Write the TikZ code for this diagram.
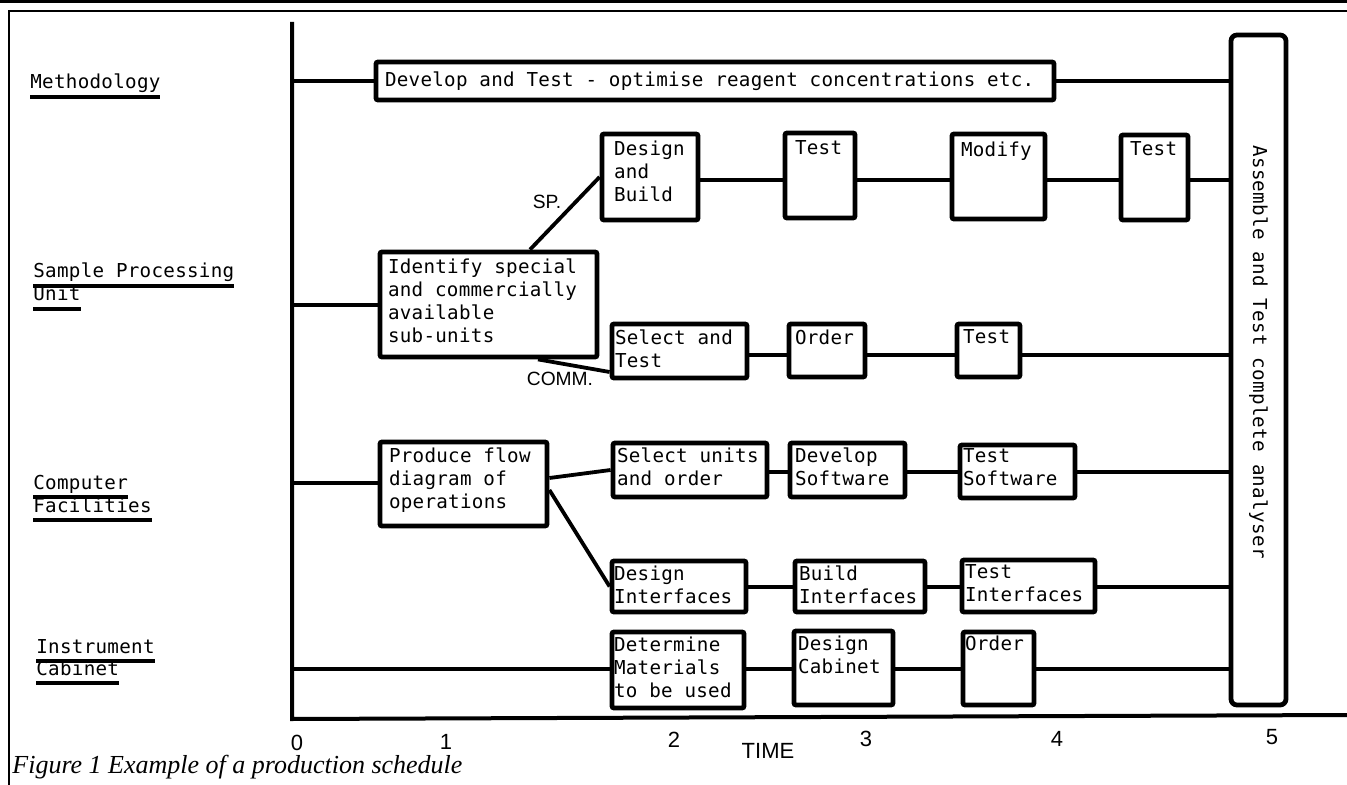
\documentclass[tikz,border=0pt]{standalone}
\usepackage{fontspec}
\setmainfont{Liberation Serif}
\newfontfamily\tw[LetterSpace=1.5]{DejaVu Sans Mono}
\newfontfamily\lsans{Liberation Sans}
\usetikzlibrary{fit,calc}
\newcommand\ulx[1]{\setbox0\hbox{#1}\rlap{\rule[-5pt]{\wd0}{1.9pt}}\box0}
\begin{document}
\begin{tikzpicture}[x=0.5pt,y=-0.5pt,
  box/.style={draw, line width=2.4pt, inner sep=0pt, rounded corners=1pt},
  conn/.style={line width=1.9pt},
  axisline/.style={line width=2pt},
  tl/.style={anchor=north west, inner sep=0pt, align=left, font=\tw\fontsize{9.6}{11.5}\selectfont},
  lab/.style={anchor=base west, inner sep=0pt, font=\tw\fontsize{9.6}{11.5}\selectfont},
  rot/.style={inner sep=0pt, font=\tw\fontsize{9.6}{11.5}\selectfont},
  tick/.style={inner sep=0pt, font=\lsans\fontsize{11}{13}\selectfont},
  branch/.style={inner sep=0pt, font=\lsans\fontsize{9.6}{12}\selectfont}]
\useasboundingbox (0,0) rectangle (1347,785);
% frame
\draw[line width=1.6pt] (0,1) -- (1347,1);
\draw[line width=0.7pt] (1347,11) -- (9,11) -- (9,785);
% axes
\coordinate (axT) at (292,22);
\coordinate (axO) at (292,719);
\coordinate (axR) at (1347,715);
\draw[axisline] (axT) -- (axO) -- (axR);
% row labels
\node[lab] (lm) at (30,89) {\ulx{Methodology}};
\node[lab] (ls1) at (33,278) {\ulx{Sample Processing}};
\node[lab] (ls2) at (33,301) {\ulx{Unit}};
\node[lab] (lc1) at (33,489) {\ulx{Computer}};
\node[lab] (lc2) at (33,512) {\ulx{Facilities}};
\node[lab] (li1) at (36,653) {\ulx{Instrument}};
\node[lab] (li2) at (36,675) {\ulx{Cabinet}};
% boxes
\node[box, fit={(376,62) (1054,100)}, label={[tl, shift={(11,12)}]north west:Develop and Test - optimise reagent concentrations etc.}] (dev) {};
\node[box, rounded corners=3pt, fit={(1231,35) (1286,705)}] (asm) {};
\node[rot, rotate=-90] (asmt) at ([yshift=9pt]asm.center) {Assemble and Test complete analyser};
\node[box, fit={(602,134) (698,220)}, label={[tl, shift={(14,9)}]north west:Design\\and\\Build}] (db) {};
\node[box, fit={(785,133) (855,218)}, label={[tl, shift={(12,10)}]north west:Test}] (t1) {};
\node[box, fit={(952,134) (1045,219)}, label={[tl, shift={(11,10)}]north west:Modify}] (mod) {};
\node[box, fit={(1121,135) (1188,220)}, label={[tl, shift={(11,9)}]north west:Test}] (t2) {};
\node[box, fit={(380,252) (597,357)}, label={[tl, shift={(10,9)}]north west:Identify special\\and commercially\\available\\sub-units}] (idn) {};
\node[box, fit={(612,324) (747,378)}, label={[tl, shift={(5,8)}]north west:Select and\\Test}] (st) {};
\node[box, fit={(789,324) (865,377)}, label={[tl, shift={(8,8)}]north west:Order}] (ord) {};
\node[box, fit={(957,324) (1020,377)}, label={[tl, shift={(8,8)}]north west:Test}] (t3) {};
\node[box, fit={(380,442) (547,526)}, label={[tl, shift={(11,8)}]north west:Produce flow\\diagram of\\operations}] (pf) {};
\node[box, fit={(613,443) (767,497)}, label={[tl, shift={(6,7)}]north west:Select units\\and order}] (su) {};
\node[box, fit={(790,443) (905,497)}, label={[tl, shift={(7,7)}]north west:Develop\\Software}] (dv) {};
\node[box, fit={(960,445) (1075,498)}, label={[tl, shift={(5,6)}]north west:Test\\Software}] (ts) {};
\node[box, fit={(612,561) (746,612)}, label={[tl, shift={(4,7)}]north west:Design\\Interfaces}] (di) {};
\node[box, fit={(795,561) (925,612)}, label={[tl, shift={(6,7)}]north west:Build\\Interfaces}] (bi) {};
\node[box, fit={(962,560) (1095,612)}, label={[tl, shift={(5,6)}]north west:Test\\Interfaces}] (ti) {};
\node[box, fit={(612,632) (744,708)}, label={[tl, shift={(4,7)}]north west:Determine\\Materials\\to be used}] (dm) {};
\node[box, fit={(794,631) (893,705)}, label={[tl, shift={(6,7)}]north west:Design\\Cabinet}] (dc) {};
\node[box, fit={(963,632) (1034,705)}, label={[tl, shift={(4,6)}]north west:Order}] (oc) {};
% row coordinates
\coordinate (rM) at (292,81);
\coordinate (rSP) at (0,180);
\coordinate (rI) at (292,305);
\coordinate (rC) at (0,355);
\coordinate (rCF) at (292,483);
\coordinate (rSW) at (0,472);
\coordinate (rIF) at (0,587);
\coordinate (rCab) at (292,669);
% connectors
\draw[conn] (rM) -- (dev.west |- rM);
\draw[conn] (dev.east |- rM) -- (asm.west |- rM);
\draw[conn] (db.east |- rSP) -- (t1.west |- rSP);
\draw[conn] (t1.east |- rSP) -- (mod.west |- rSP);
\draw[conn] (mod.east |- rSP) -- (t2.west |- rSP);
\draw[conn] (t2.east |- rSP) -- (asm.west |- rSP);
\draw[conn] (rI) -- (idn.west |- rI);
\draw[conn] ([xshift=20.75pt]idn.north) -- (db.west);
\draw[conn] ([xshift=24.75pt]idn.south) -- ([yshift=-10.5pt]st.west);
\draw[conn] (st.east |- rC) -- (ord.west |- rC);
\draw[conn] (ord.east |- rC) -- (t3.west |- rC);
\draw[conn] (t3.east |- rC) -- (asm.west |- rC);
\draw[conn] (rCF) -- (pf.west |- rCF);
\draw[conn] ([yshift=3pt]pf.east) -- (su.west);
\draw[conn] ([yshift=-3pt]pf.east) -- (di.west);
\draw[conn] (su.east |- rSW) -- (dv.west |- rSW);
\draw[conn] (dv.east |- rSW) -- (ts.west |- rSW);
\draw[conn] (ts.east |- rSW) -- (asm.west |- rSW);
\draw[conn] (di.east |- rIF) -- (bi.west |- rIF);
\draw[conn] (bi.east |- rIF) -- (ti.west |- rIF);
\draw[conn] (ti.east |- rIF) -- (asm.west |- rIF);
\draw[conn] (rCab) -- (dm.west |- rCab);
\draw[conn] (dm.east |- rCab) -- (dc.west |- rCab);
\draw[conn] (dc.east |- rCab) -- (oc.west |- rCab);
\draw[conn] (oc.east |- rCab) -- (asm.west |- rCab);
% branch labels
\node[branch] (sp) at (547,202) {SP.};
\node[branch] (comm) at (560,379) {COMM.};
% time axis
\node[tick] (n0) at (297,743) {0};
\node[tick] (n1) at (446,742) {1};
\node[tick] (n2) at (674,740) {2};
\node[tick] (n3) at (866,739) {3};
\node[tick] (n4) at (1057,739) {4};
\node[tick] (n5) at (1272,737) {5};
\node[tick] (time) at (768,751) {TIME};
% caption
\node[anchor=base west, inner sep=0pt, font=\itshape\fontsize{13}{15}\selectfont] (cap) at (12,773) {Figure 1 Example of a production schedule};
\end{tikzpicture}
\end{document}
